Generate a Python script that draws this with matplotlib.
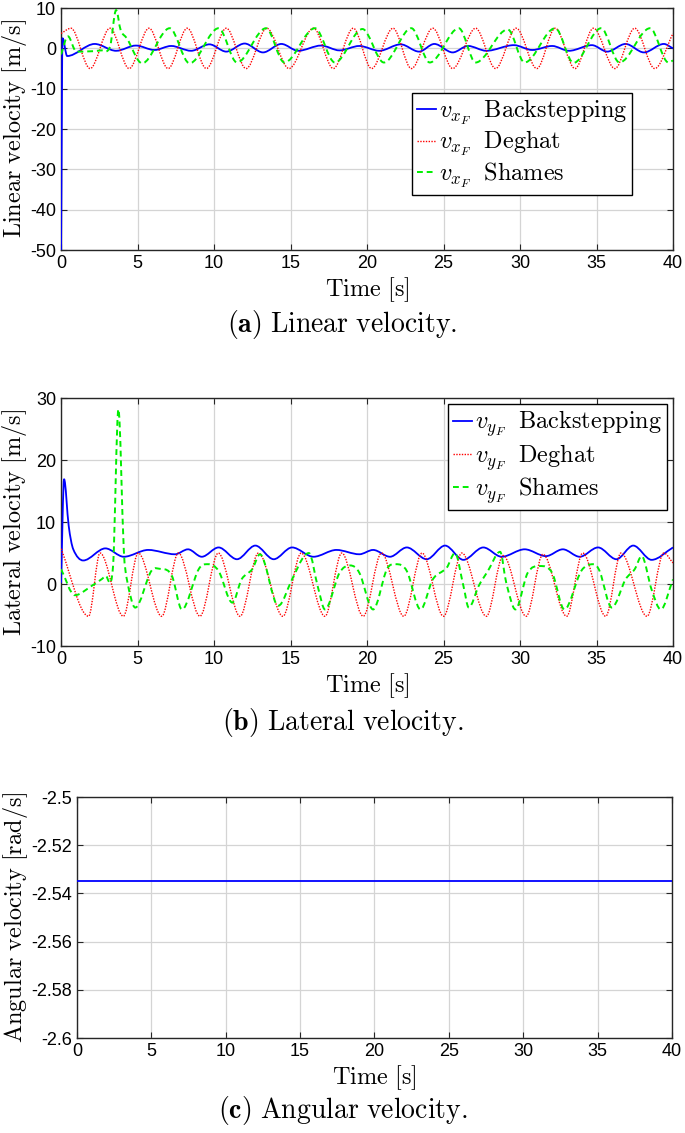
import numpy as np
import matplotlib
matplotlib.use('Agg')
from matplotlib import pyplot as plt
from matplotlib.path import Path
from matplotlib.patches import PathPatch
from matplotlib.lines import Line2D
from matplotlib.ticker import FormatStrFormatter

plt.rcParams['font.family'] = ['Liberation Sans', 'DejaVu Sans']
plt.rcParams['mathtext.fontset'] = 'cm'
plt.rcParams['axes.unicode_minus'] = False

## data (extrema and a few shape points)

# (a) linear velocity
t_bs_x = [0, 0.1, 0.4, 2.2, 3.6, 4.9, 6.1, 7.2, 8.5, 9.7, 10.8, 12.0, 13.2, 14.4,
          15.5, 17.0, 18.2, 19.5, 20.8, 22.2, 23.4, 24.4, 25.6, 26.6, 27.8, 29.6,
          30.8, 32.1, 33.2, 34.7, 35.7, 36.9, 38.1, 39.4, 40.0]
v_bs_x = [-50, 2.5, -1.9, 1.1, -0.6, 0.7, -0.4, 0.6, -0.6, 1.0, -0.8, 1.2, -1.0, 1.1,
          -0.6, 0.7, -0.5, 0.6, -0.6, 1.0, -0.8, 1.1, -1.0, 0.6, -0.6, 0.8,
          -0.4, 0.6, -0.6, 0.8, -0.8, 1.1, -1.0, 1.1, 0.0]

t_dg_x = [0, 0.65, 1.9, 3.2, 4.45, 5.75, 7.0, 8.25, 9.5, 10.8, 12.1, 13.45, 14.9,
          16.5, 17.8, 19.1, 20.3, 21.7, 22.9, 24.3, 25.6, 27.1, 28.4, 29.75, 31.1,
          32.3, 33.6, 34.8, 36.2, 37.5, 38.8, 40.0]
v_dg_x = [3.7, 5.0, -5.0, 5.0, -5.0, 5.0, -5.0, 5.0, -5.0, 5.0, -5.0, 5.0, -5.0,
          5.0, -5.0, 5.0, -5.0, 5.0, -5.0, 5.0, -5.0, 5.0, -5.0, 5.0, -5.0,
          5.0, -5.0, 5.0, -5.0, 5.0, -5.0, 3.7]

t_sh_x = [0, 0.45, 1.0, 2.6, 3.2, 3.6, 3.9, 4.3, 5.3, 7.1, 8.4, 10.3, 11.5, 13.4,
          14.6, 16.6, 17.9, 19.7, 21.1, 22.9, 24.1, 26.0, 27.1, 29.2, 30.3, 32.3,
          33.5, 35.3, 36.5, 38.5, 39.7, 40.0]
v_sh_x = [-1.5, 3.0, -0.8, -0.5, 0.4, 9.5, 4.5, 2.5, -3.7, 5.0, -3.7, 5.0, -3.5, 5.0,
          -3.5, 5.0, -3.5, 4.8, -3.5, 5.0, -3.5, 5.0, -3.5, 4.7, -3.5, 5.0,
          -3.6, 5.0, -3.5, 5.0, -3.5, -3.0]

# (b) lateral velocity
t_bs_y = [0, 0.2, 0.5, 0.8, 1.45, 2.9, 4.1, 5.7, 7.45, 8.3, 9.2, 10.3, 11.5, 12.7,
          13.9, 15.1, 16.5, 18.0, 19.5, 20.4, 21.5, 22.6, 23.9, 25.1, 26.3, 27.6,
          28.8, 30.3, 31.7, 32.8, 33.9, 35.1, 36.3, 37.4, 38.6, 40.0]
v_bs_y = [0.2, 16.9, 9.4, 5.6, 3.8, 5.75, 4.4, 5.5, 4.8, 5.6, 4.4, 5.9, 4.0, 6.2,
          4.0, 5.9, 4.4, 5.5, 4.8, 5.5, 4.4, 5.9, 4.0, 6.2, 3.9, 5.9,
          4.4, 5.6, 4.5, 5.6, 4.4, 5.9, 4.0, 6.2, 3.9, 5.9]

t_dg_y = [0, 1.8, 2.55, 4.07, 5.05, 6.58, 7.67, 9.08, 10.28, 11.7, 12.9, 14.5, 15.7,
          17.25, 18.35, 19.75, 20.95, 22.4, 23.6, 25.0, 26.2, 27.8, 28.9, 30.4,
          31.5, 33.05, 34.1, 35.6, 36.6, 38.3, 39.4, 40.0]
v_dg_y = [5.7, -5.2, 5.0, -5.2, 5.0, -5.2, 5.0, -5.2, 5.0, -5.2, 5.0, -5.2, 5.0,
          -5.2, 5.0, -5.2, 5.0, -5.2, 5.0, -5.2, 5.0, -5.2, 4.6, -5.2,
          4.8, -5.2, 5.0, -5.2, 5.0, -5.2, 5.0, 3.4]

t_sh_y = [0, 0.9, 2.0, 2.9, 3.4, 3.75, 4.1, 4.3, 4.85, 5.9, 6.6, 7.25, 7.9, 9.0, 9.6,
          10.3, 11.2, 11.8, 12.5, 13.0, 14.2, 15.1, 15.8, 16.2, 16.8, 17.25, 18.2,
          18.9, 19.5, 20.4, 21.3, 21.9, 22.6, 23.5, 24.3, 25.2, 25.75, 26.3, 26.65,
          27.3, 27.9, 28.7, 29.1, 29.7, 30.5, 31.3, 32.1, 32.9, 34.0, 34.8, 35.2,
          36.0, 36.9, 37.5, 37.95, 38.6, 39.2, 40.0]
v_sh_y = [2.4, -1.8, -0.3, 1.3, 2.9, 28.2, 5.6, 0.8, -3.8, 2.1, 2.4, 1.3, -4.1, 2.4, 3.2,
          2.1, -3.0, 0.75, 2.4, 4.8, -3.5, 0.75, 4.2, 5.0, -0.6, -4.1, 1.8,
          3.0, 1.8, -4.1, 2.4, 3.2, 2.1, -4.1, 0.75, 2.6, 5.0, -0.3, -3.8,
          -0.3, 2.1, 5.2, 0.2, -4.1, 1.8, 2.9, 1.8, -4.1, 2.1, 3.2, 2.1,
          -3.8, 0.75, 2.4, 4.5, -0.9, -4.1, 0.75]

# (c) angular velocity
t_w = [0, 40]
v_w = [-2.535, -2.535]

BLUE = '#0000ff'
RED = '#ff0000'
GREEN = '#00ee00'

sty_bs = dict(color=BLUE, lw=1.3, ls='-')
sty_dg = dict(color=RED, lw=1.0, ls=(0, (1, 1)))
sty_sh = dict(color=GREEN, lw=1.4, ls=(0, (3, 2)))


def smooth_line(ax, t, v, **kw):
    ''' draw a smooth curve through the read points (bezier path) '''
    t = np.asarray(t, float)
    v = np.asarray(v, float)
    n = len(t)
    m = np.zeros(n)
    for i in range(n):
        if i == 0:
            m[i] = (v[1] - v[0]) / (t[1] - t[0])
        elif i == n - 1:
            m[i] = (v[-1] - v[-2]) / (t[-1] - t[-2])
        elif (v[i] - v[i-1]) * (v[i+1] - v[i]) <= 0:
            m[i] = 0.0
        else:
            m[i] = (v[i+1] - v[i-1]) / (t[i+1] - t[i-1])
    verts = [(t[0], v[0])]
    codes = [Path.MOVETO]
    for i in range(n - 1):
        h = (t[i+1] - t[i]) / 3.0
        verts += [(t[i] + h, v[i] + m[i]*h),
                  (t[i+1] - h, v[i+1] - m[i+1]*h),
                  (t[i+1], v[i+1])]
        codes += [Path.CURVE4] * 3
    p = PathPatch(Path(verts, codes), fill=False, capstyle='butt',
                  joinstyle='round', edgecolor=kw['color'], lw=kw['lw'],
                  ls=kw['ls'], zorder=3)
    ax.add_patch(p)


def style_axes(ax, ylim, yticks):
    ax.set_xlim(0, 40)
    ax.set_ylim(*ylim)
    ax.set_xticks(np.arange(0, 41, 5))
    ax.set_yticks(yticks)
    ax.grid(True, color='#d4d4d4', lw=0.9)
    ax.set_axisbelow(True)
    ax.tick_params(direction='in', top=True, right=True, length=4,
                   width=0.8, labelsize=13, pad=3.5, colors='#262626',
                   labelcolor='black')
    for s in ax.spines.values():
        s.set_color('#262626')
        s.set_linewidth(1.0)
    ax.set_xlabel(r'$\mathrm{Time\ [s]}$', fontsize=17.5, labelpad=2.5)


def legend(ax, sub, **kw):
    hs = [Line2D([], [], **sty_bs), Line2D([], [], **sty_dg), Line2D([], [], **sty_sh)]
    labs = [r'$v_{%s}\ \;\mathrm{Backstepping}$' % sub,
            r'$v_{%s}\ \;\mathrm{Deghat}$' % sub,
            r'$v_{%s}\ \;\mathrm{Shames}$' % sub]
    lg = ax.legend(hs, labs, fontsize=17.5, fancybox=False, framealpha=1,
                   edgecolor='black', handlelength=0.8, handletextpad=0.1,
                   borderpad=0.2, labelspacing=0.1, borderaxespad=0, **kw)
    lg.get_frame().set_linewidth(1.0)


fig = plt.figure(figsize=(6.85, 11.33), dpi=100)

# (a)
ax1 = fig.add_axes([0.0891, 0.7793, 0.8934, 0.2136])
smooth_line(ax1, t_bs_x, v_bs_x, **sty_bs)
smooth_line(ax1, t_dg_x, v_dg_x, **sty_dg)
smooth_line(ax1, t_sh_x, v_sh_x, **sty_sh)
style_axes(ax1, (-50, 10), np.arange(-50, 11, 10))
ax1.set_ylabel(r'$\mathrm{Linear\ velocity\ [m/s]}$', fontsize=17.5, labelpad=1)
legend(ax1, 'x_F', loc='upper left', bbox_to_anchor=(0.5735, 0.649))
fig.text(0.5, 0.714, r'$\mathbf{(a)}\ \mathrm{Linear\ velocity.}$',
         ha='center', va='center', fontsize=20)

# (b)
ax2 = fig.add_axes([0.0891, 0.4298, 0.8934, 0.2189])
smooth_line(ax2, t_bs_y, v_bs_y, **sty_bs)
smooth_line(ax2, t_dg_y, v_dg_y, **sty_dg)
smooth_line(ax2, t_sh_y, v_sh_y, **sty_sh)
style_axes(ax2, (-10, 30), np.arange(-10, 31, 10))
ax2.set_ylabel(r'$\mathrm{Lateral\ velocity\ [m/s]}$', fontsize=17.5, labelpad=1)
legend(ax2, 'y_F', loc='upper right', bbox_to_anchor=(0.990, 0.976))
fig.text(0.5, 0.3627, r'$\mathbf{(b)}\ \mathrm{Lateral\ velocity.}$',
         ha='center', va='center', fontsize=20)

# (c)
ax3 = fig.add_axes([0.1124, 0.0838, 0.8686, 0.2127])
ax3.plot(t_w, v_w, color=BLUE, lw=1.3, zorder=3)
style_axes(ax3, (-2.6, -2.5), np.arange(-2.6, -2.4999, 0.02))
ax3.yaxis.set_major_formatter(FormatStrFormatter('%g'))
ax3.set_ylabel(r'$\mathrm{Angular\ velocity\ [rad/s]}$', fontsize=17.5, labelpad=1)
fig.text(0.5, 0.0203, r'$\mathbf{(c)}\ \mathrm{Angular\ velocity.}$',
         ha='center', va='center', fontsize=20)

plt.savefig('out.png', dpi=100)
